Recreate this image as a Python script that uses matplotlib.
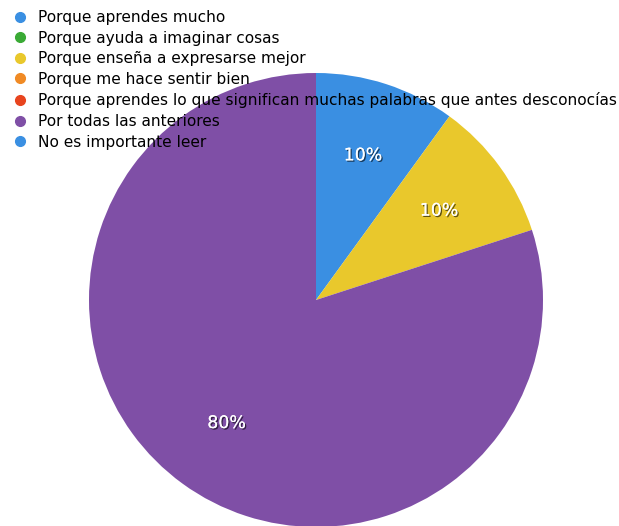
import matplotlib
matplotlib.use("Agg")
import matplotlib.pyplot as plt
from matplotlib.lines import Line2D
import matplotlib.patheffects as pe

categories = [
    "Porque aprendes mucho",
    "Porque ayuda a imaginar cosas",
    "Porque enseña a expresarse mejor",
    "Porque me hace sentir bien",
    "Porque aprendes lo que significan muchas palabras que antes desconocías",
    "Por todas las anteriores",
    "No es importante leer",
]
values = [1, 0, 1, 0, 0, 8, 0]
colors = ["#3a8fe2", "#3aaa35", "#e9c82c", "#f08a24", "#e8441e", "#7f4fa6", "#3a8fe2"]

plt.rcParams['font.family'] = ['DejaVu Sans']

fig = plt.figure(figsize=(6.19, 5.26), dpi=100)
ax = fig.add_axes([0, 0, 1, 1])

def fmt(p):
    return f"{p:.0f}%" if p > 0.5 else ""

wedges, texts, autotexts = ax.pie(
    values, colors=colors, startangle=90, counterclock=False,
    center=(316, 226), radius=227, autopct=fmt, pctdistance=0.67,
    wedgeprops=dict(linewidth=0),
    textprops=dict(color="white", fontsize=12.5),
)
for t in autotexts:
    t.set_path_effects([pe.withSimplePatchShadow(offset=(1, -1), shadow_rgbFace="black", alpha=0.6), pe.Normal()])

ax.set_xlim(0, 619)
ax.set_ylim(0, 526)
ax.axis("off")

handles = [Line2D([0], [0], marker="o", linestyle="none", markersize=7,
                  markerfacecolor=c, markeredgecolor=c) for c in colors]
leg = fig.legend(handles, categories, loc="upper left", bbox_to_anchor=(0.0, 1.004),
                 frameon=False, fontsize=11.1, handlelength=1.0, handletextpad=0.67,
                 labelspacing=0.36, borderaxespad=0.3, borderpad=0.5)
leg.set_zorder(10)

fig.savefig("out.png", dpi=100)
